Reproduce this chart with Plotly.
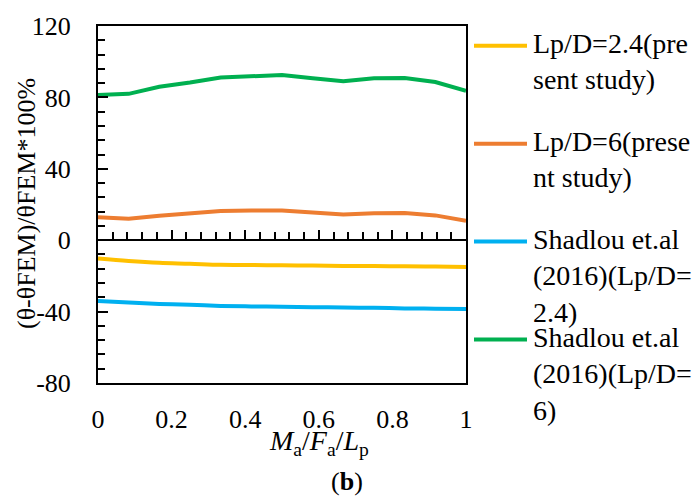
import plotly.graph_objects as go

# ---- data ----
x_vals = [0, 1/12, 2/12, 3/12, 4/12, 5/12, 6/12, 7/12, 8/12, 9/12, 10/12, 11/12, 1]
lp24_present = [-10.3, -11.7, -12.7, -13.2, -13.8, -13.9, -14.1, -14.2, -14.4, -14.5, -14.6, -14.8, -15.0]
lp6_present = [12.9, 12.0, 13.7, 14.8, 16.3, 16.6, 16.6, 15.5, 14.4, 15.1, 15.3, 13.9, 10.9]
shadlou_24 = [-34.0, -34.9, -35.7, -36.2, -36.8, -37.1, -37.3, -37.5, -37.7, -37.9, -38.2, -38.4, -38.6]
shadlou_6 = [81.3, 82.0, 86.0, 88.3, 91.2, 92.1, 92.5, 90.7, 89.0, 90.7, 90.8, 88.6, 83.7]

names = ["Lp/D=2.4(pre<br>sent study)", "Lp/D=6(prese<br>nt study)",
         "Shadlou et.al<br>(2016)(Lp/D=<br>2.4)", "Shadlou et.al<br>(2016)(Lp/D=<br>6)"]
colors = ["#FFC000", "#ED7D31", "#00B0F0", "#00B050"]
y_tick_vals = [-80, -40, 0, 40, 80, 120]
y_tick_text = ["-80", "-40", "0", "40", "80", "120"]
x_tick_vals = [0, 0.2, 0.4, 0.6, 0.8, 1]
x_tick_text = ["0", "0.2", "0.4", "0.6", "0.8", "1"]

FONT = "'Liberation Serif', 'Times New Roman', serif"
FS = 26
W, H = 694, 497
L, R, T, B = 98, 466, 22, 383


def px_x(px):
    return (px - L) / (R - L)


def px_y(py):
    return (B - py) / (B - T)


def fnt(size=FS):
    return dict(family=FONT, size=size, color="black")


fig = go.Figure()
series = [lp24_present, lp6_present, shadlou_24, shadlou_6]
shapes_ = ["spline", "linear", "spline", "linear"]
for i, (ys, c, sh) in enumerate(zip(series, colors, shapes_)):
    fig.add_trace(go.Scatter(x=x_vals, y=ys, mode="lines", name=names[i],
                             line=dict(color=c, width=4, shape=sh),
                             xaxis="x2" if i == 0 else "x", showlegend=False))

fig.update_layout(
    width=W, height=H,
    margin=dict(l=L, r=W - R, t=T, b=H - B),
    paper_bgcolor="white", plot_bgcolor="white",
    font=fnt(),
    xaxis=dict(range=[0, 1], showgrid=False, zeroline=False, showline=True, mirror=True,
               linecolor="black", linewidth=2, ticks="", tickvals=x_tick_vals,
               ticktext=x_tick_text, ticklabelstandoff=12, tickfont=fnt()),
    xaxis2=dict(range=[0, 1], overlaying="x", anchor="free", position=0.4, side="bottom",
                showgrid=False, zeroline=False, showline=True, linecolor="black", linewidth=2,
                ticks="inside", ticklen=9, tickwidth=1.5, tickcolor="black", dtick=0.2, tick0=0,
                showticklabels=False,
                minor=dict(dtick=0.04, tick0=0, ticks="inside", ticklen=7, tickwidth=1.5,
                           tickcolor="black", showgrid=False)),
    yaxis=dict(range=[-80, 120], showgrid=False, zeroline=False, showline=True, mirror=True,
               linecolor="black", linewidth=2, ticks="inside", ticklen=10, tickwidth=1.5,
               tickcolor="black", tickvals=y_tick_vals, ticktext=y_tick_text,
               ticklabelstandoff=20, tickfont=fnt(),
               minor=dict(dtick=8, tick0=0, ticks="inside", ticklen=7, tickwidth=1.5,
                          tickcolor="black", showgrid=False)),
)

# y-axis title
fig.add_annotation(text="(θ-θFEM)/θFEM*100%", textangle=-90, xref="paper", yref="paper",
                   x=px_x(26), y=px_y(202), showarrow=False, xanchor="center", yanchor="middle",
                   font=fnt())
# x-axis title
fig.add_annotation(text="<i>M</i><sub>a</sub>/<i>F</i><sub>a</sub>/<i>L</i><sub>p</sub>",
                   xref="paper", yref="paper", x=px_x(319), y=px_y(443), showarrow=False,
                   xanchor="center", yanchor="middle", font=fnt(28))
# panel label
fig.add_annotation(text="(<b>b</b>)", xref="paper", yref="paper", x=px_x(347), y=px_y(483),
                   showarrow=False, xanchor="center", yanchor="middle", font=fnt())

# manual legend
leg_y = [42, 141, 240, 339]
for name, c, ly in zip(names, colors, leg_y):
    fig.add_shape(type="line", xref="paper", yref="paper", x0=px_x(474), x1=px_x(527),
                  y0=px_y(ly), y1=px_y(ly), line=dict(color=c, width=4))
    fig.add_annotation(text=name, xref="paper", yref="paper", x=px_x(531), y=px_y(ly - 20),
                       showarrow=False, xanchor="left", yanchor="top", align="left",
                       font=fnt(28))

fig.write_html("out.html")
